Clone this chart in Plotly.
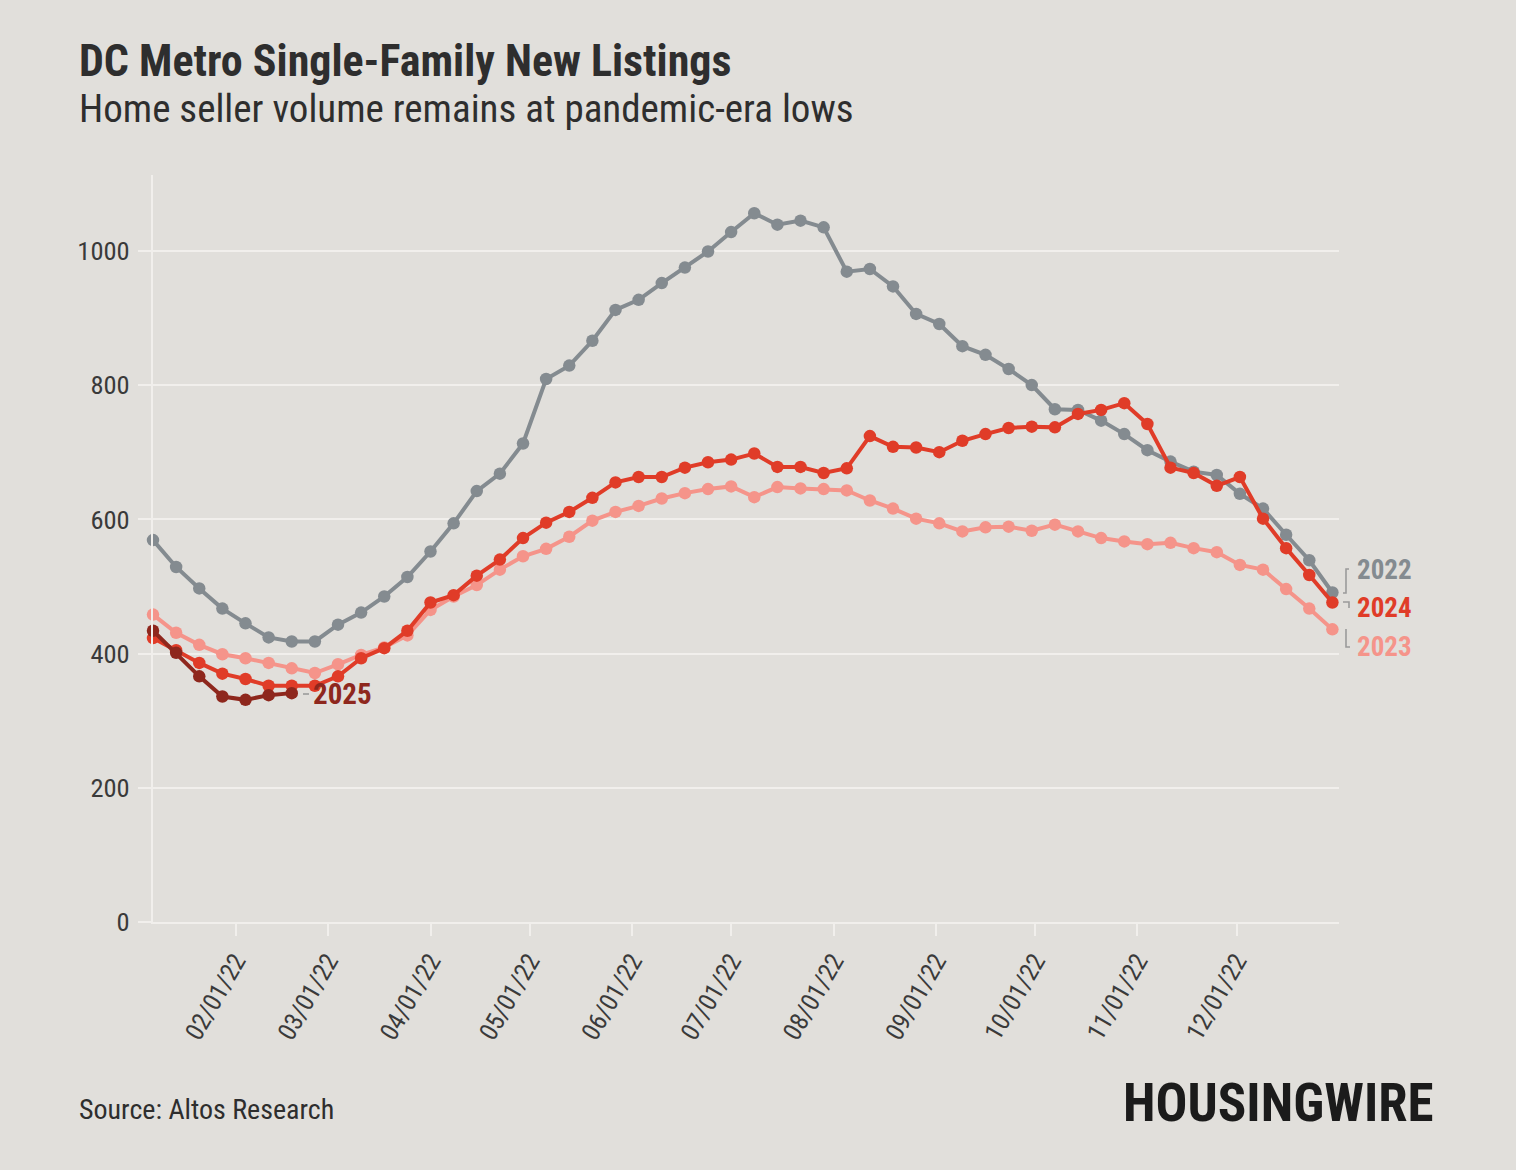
import pandas as pd
import plotly.graph_objects as go

# ---------------- data ----------------
week_start = "2022-01-07"
n_weeks = 52
dates = pd.date_range(week_start, periods=n_weeks, freq="7D")

values_2022 = [569, 529, 497, 467, 445, 424, 418, 418, 443, 461, 485, 514, 552, 594,
               642, 668, 713, 809, 829, 866, 912, 927, 952, 975, 999, 1028, 1056, 1039,
               1045, 1035, 969, 973, 947, 906, 891, 858, 845, 824, 800, 764, 763, 747,
               727, 703, 686, 671, 666, 638, 616, 577, 539, 491]
values_2023 = [458, 431, 413, 399, 393, 386, 378, 371, 384, 398, 409, 427, 465, 485,
               502, 525, 545, 556, 574, 598, 611, 620, 631, 639, 645, 649, 633, 648,
               646, 645, 643, 628, 616, 601, 594, 582, 588, 589, 583, 592, 582, 572,
               567, 563, 565, 557, 551, 532, 525, 496, 467, 436]
values_2024 = [423, 405, 386, 370, 362, 352, 352, 352, 366, 393, 408, 434, 476, 487,
               516, 540, 572, 595, 611, 632, 655, 663, 663, 677, 685, 689, 698, 678,
               678, 669, 676, 724, 708, 707, 700, 717, 727, 736, 738, 737, 757, 763,
               773, 742, 677, 669, 650, 663, 601, 557, 517, 476]
values_2025 = [434, 401, 366, 336, 331, 338, 341]

series_names = ["2022", "2023", "2024", "2025"]
series_colors = {"2022": "#848b90", "2023": "#f5948a", "2024": "#e03c28", "2025": "#8e271d"}

y_ticks = [0, 200, 400, 600, 800, 1000]
x_tick_dates = ["2022-02-01", "2022-03-01", "2022-04-01", "2022-05-01", "2022-06-01",
                "2022-07-01", "2022-08-01", "2022-09-01", "2022-10-01", "2022-11-01",
                "2022-12-01"]
x_tick_text = ["02/01/22", "03/01/22", "04/01/22", "05/01/22", "06/01/22", "07/01/22",
               "08/01/22", "09/01/22", "10/01/22", "11/01/22", "12/01/22"]

title = "DC Metro Single-Family New Listings"
subtitle = "Home seller volume remains at pandemic-era lows"
source = "Source: Altos Research"
logo = "HOUSINGWIRE"

# ---------------- styling ----------------
BG = "#e1dfdb"
GRID = "#f1efec"
TEXT = "#3a3a3a"
COND = "Roboto Condensed, Liberation Sans Narrow, DejaVu Sans Condensed, Roboto, sans-serif"

W, H = 1516, 1170
L, R, T, B = 153, 177, 175, 248
PW, PH = W - L - R, H - T - B


def px(x):
    return (x - L) / PW


def py(y):
    return (H - B - y) / PH


fig = go.Figure()

draw = [("2022", values_2022), ("2023", values_2023), ("2024", values_2024), ("2025", values_2025)]
for name, vals in draw:
    fig.add_trace(go.Scatter(
        x=dates[:len(vals)], y=vals, mode="lines+markers", name=name,
        line=dict(color=series_colors[name], width=4),
        marker=dict(color=series_colors[name], size=12.5),
        cliponaxis=False, showlegend=False,
    ))

annotations = [
    dict(text=f"<b>{title}</b>", x=px(77), y=py(61), xanchor="left", yanchor="middle",
         font=dict(family=COND, size=44, color="#2e2e2e")),
    dict(text=subtitle, x=px(77), y=py(109), xanchor="left", yanchor="middle",
         font=dict(family=COND, size=39, color="#2e2e2e")),
    dict(text=source, x=px(77), y=py(1109), xanchor="left", yanchor="middle",
         font=dict(family=COND, size=28, color="#2e2e2e")),
    dict(text=f"<b>{logo}</b>", x=px(1436), y=py(1103), xanchor="right", yanchor="middle",
         font=dict(family=COND, size=53, color="#1b1b1b")),
    dict(text="<b>2022</b>", x=px(1355), y=py(570), xanchor="left", yanchor="middle",
         font=dict(family=COND, size=27, color=series_colors["2022"])),
    dict(text="<b>2024</b>", x=px(1355), y=py(608), xanchor="left", yanchor="middle",
         font=dict(family=COND, size=27, color=series_colors["2024"])),
    dict(text="<b>2023</b>", x=px(1355), y=py(647), xanchor="left", yanchor="middle",
         font=dict(family=COND, size=27, color=series_colors["2023"])),
    dict(text="<b>2025</b>", x=px(311), y=py(694), xanchor="left", yanchor="middle",
         font=dict(family=COND, size=29, color=series_colors["2025"])),
]
for a in annotations:
    a.update(xref="paper", yref="paper", showarrow=False)

BR = "#9b9b9b"
connectors = [
    # 2022 bracket
    [(1349, 569), (1346, 569), (1346, 593), (1343, 593)],
    # 2024 bracket
    [(1343, 602), (1349, 602), (1349, 608)],
    # 2023 bracket
    [(1346, 629), (1346, 647), (1350, 647)],
    # 2025 dash
    [(303, 694), (309, 694)],
]
shapes = []
for pts in connectors:
    path = "M " + " L ".join(f"{px(x)},{py(y)}" for x, y in pts)
    shapes.append(dict(type="path", path=path, xref="paper", yref="paper",
                       line=dict(color=BR, width=1.6)))

fig.update_layout(
    width=W, height=H,
    margin=dict(l=L, r=R, t=T, b=B, pad=0),
    paper_bgcolor=BG, plot_bgcolor=BG,
    annotations=annotations, shapes=shapes,
    font=dict(family=COND, color=TEXT),
    xaxis=dict(
        type="date", range=["2022-01-07", "2023-01-01"],
        tickvals=x_tick_dates, ticktext=x_tick_text, tickangle=-60,
        showgrid=False, zeroline=False,
        showline=True, linecolor=GRID, linewidth=2,
        ticks="outside", ticklen=12, tickwidth=2, tickcolor=GRID,
        tickfont=dict(family=COND, size=25.5, color=TEXT),
    ),
    yaxis=dict(
        range=[0, 1113], tickvals=y_ticks,
        showgrid=True, gridcolor=GRID, gridwidth=2,
        zeroline=False,
        showline=True, linecolor=GRID, linewidth=2,
        ticks="outside", ticklen=13, tickwidth=2, tickcolor=GRID,
        ticklabelstandoff=3,
        tickfont=dict(family=COND, size=26.5, color=TEXT),
    ),
)

fig.write_html("out.html")
